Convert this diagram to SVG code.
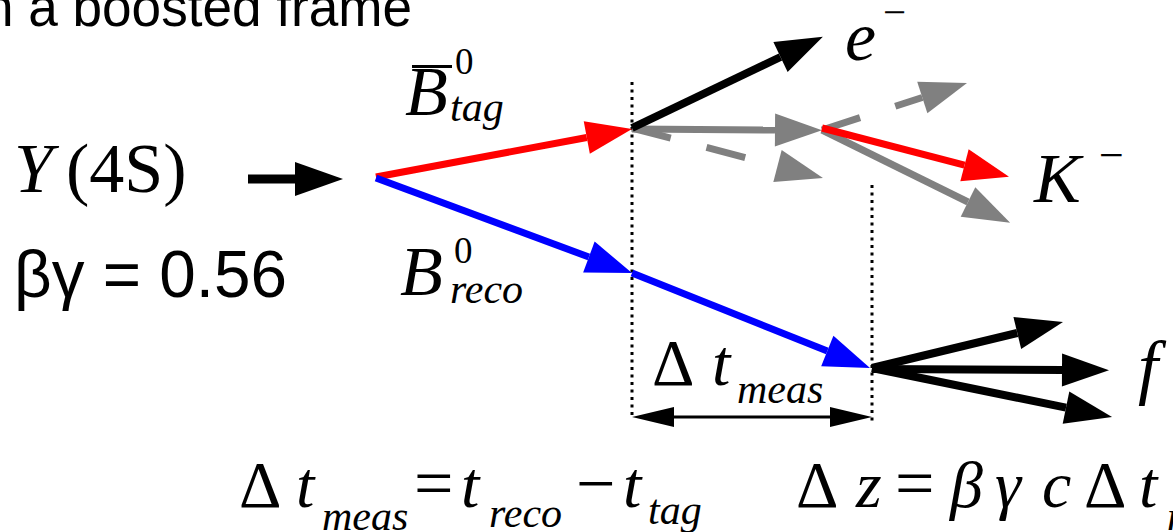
<svg xmlns="http://www.w3.org/2000/svg" width="1173" height="532" viewBox="0 0 1173 532">
<style>
.sans{font-family:"Liberation Sans",Arial,sans-serif;fill:#000}
.m{font-family:"Liberation Serif","Times New Roman",serif;fill:#000}
.i{font-style:italic}
.big{font-size:70px}
.mid{font-size:66px}
.sub{font-size:42px}
.sup{font-size:37px}
.arr{fill:none;stroke-linecap:butt}
.k{stroke:#000}
.r{stroke:#ff0000}
.b{stroke:#0000ff}
.g{stroke:#808080}
.dot{stroke:#000;stroke-width:3;stroke-dasharray:3 4.5;fill:none}
</style>
<defs>
<marker id="hk" markerUnits="userSpaceOnUse" markerWidth="60" markerHeight="40" refX="0" refY="0" orient="auto" overflow="visible"><path d="M0,-16.5 L47,0 L0,16.5 Z" fill="#000"/></marker>
<marker id="hr" markerUnits="userSpaceOnUse" markerWidth="60" markerHeight="40" refX="0" refY="0" orient="auto" overflow="visible"><path d="M0,-16.5 L46,0 L0,16.5 Z" fill="#ff0000"/></marker>
<marker id="hb" markerUnits="userSpaceOnUse" markerWidth="60" markerHeight="40" refX="0" refY="0" orient="auto" overflow="visible"><path d="M0,-16.5 L46,0 L0,16.5 Z" fill="#0000ff"/></marker>
<marker id="hg" markerUnits="userSpaceOnUse" markerWidth="60" markerHeight="40" refX="0" refY="0" orient="auto" overflow="visible"><path d="M0,-16.5 L47,0 L0,16.5 Z" fill="#808080"/></marker>
<marker id="hbig" markerUnits="userSpaceOnUse" markerWidth="60" markerHeight="40" refX="0" refY="0" orient="auto" overflow="visible"><path d="M0,-17 L48,0 L0,17 Z" fill="#000"/></marker>
<marker id="hs" markerUnits="userSpaceOnUse" markerWidth="50" markerHeight="30" refX="0" refY="0" orient="auto-start-reverse" overflow="visible"><path d="M0,-10 L42,0 L0,10 Z" fill="#000"/></marker>
</defs>
<g id="title"><text class="sans" x="-16" y="26" font-size="55" textLength="428" lengthAdjust="spacingAndGlyphs">n a boosted frame</text></g>
<g id="upsilon"><text class="m i big" x="14" y="192">Υ</text><text class="m big" x="66" y="192">(4S)</text></g>
<g id="boost"><text class="sans" x="14" y="297" font-size="66" textLength="273" lengthAdjust="spacingAndGlyphs">βγ = 0.56</text></g>
<g id="btag"><text class="m i big" x="405" y="115">B</text><line x1="412" y1="66.5" x2="452" y2="66.5" stroke="#000" stroke-width="3"/><text class="m sup" x="455" y="74">0</text><text class="m i sub" x="450" y="121">tag</text></g>
<g id="breco"><text class="m i big" x="400" y="295">B</text><text class="m sup" x="454" y="263">0</text><text class="m i sub" x="450" y="303">reco</text></g>
<g id="eminus"><text class="m i big" x="845" y="60">e</text><text class="m" x="883" y="26" font-size="41">−</text></g>
<g id="kminus"><text class="m i big" x="1034" y="202">K</text><text class="m" x="1099" y="170" font-size="44">−</text></g>
<g id="f"><text class="m i" x="1138" y="391" font-size="72">f</text></g>
<g id="dt-label"><text class="m mid" x="652" y="385">Δ</text><text class="m i mid" x="712" y="385">t</text><text class="m i sub" x="737" y="403">meas</text></g>
<g id="formula1"><text class="m mid" x="239" y="507">Δ</text><text class="m i mid" x="296" y="507">t</text><text class="m i sub" x="322" y="530">meas</text><text class="m big" x="414" y="507">=</text><text class="m i mid" x="461" y="507">t</text><text class="m i sub" x="489" y="527">reco</text><text class="m big" x="576" y="507">−</text><text class="m i mid" x="623" y="507">t</text><text class="m i sub" x="648" y="524">tag</text></g>
<g id="formula2"><text class="m mid" x="796" y="507">Δ</text><text class="m i mid" x="856" y="507">z</text><text class="m big" x="895" y="507">=</text><text class="m i mid" x="950" y="507">β</text><text class="m i mid" x="995" y="507">γ</text><text class="m i mid" x="1042" y="507">c</text><text class="m mid" x="1084" y="507">Δ</text><text class="m i mid" x="1139" y="507">t</text><text class="m i sub" x="1167" y="530">meas</text></g>
<g id="connectors">
<line class="dot" x1="632" y1="82" x2="632" y2="417"/>
<line class="dot" x1="872" y1="185" x2="872" y2="423"/>
<line class="arr k" x1="248" y1="179" x2="295" y2="179" stroke-width="9" marker-end="url(#hbig)"/>
<line class="arr g" x1="632" y1="128" x2="777.5" y2="166" stroke-width="7" stroke-dasharray="40 37" marker-end="url(#hg)"/>
<line class="arr g" x1="822" y1="130" x2="922.3" y2="97.5" stroke-width="7" stroke-dasharray="40 37" marker-end="url(#hg)"/>
<line class="arr g" x1="632" y1="129" x2="775" y2="130" stroke-width="7" marker-end="url(#hg)"/>
<line class="arr g" x1="822" y1="130" x2="968" y2="202" stroke-width="7" marker-end="url(#hg)"/>
<line class="arr r" x1="376" y1="177" x2="586.8" y2="137.5" stroke-width="7" marker-end="url(#hr)"/>
<line class="arr b" x1="376" y1="178" x2="588.9" y2="257" stroke-width="7" marker-end="url(#hb)"/>
<line class="arr b" x1="632" y1="273" x2="827.3" y2="351" stroke-width="7" marker-end="url(#hb)"/>
<line class="arr k" x1="632" y1="128" x2="780.5" y2="57" stroke-width="8" marker-end="url(#hk)"/>
<line class="arr r" x1="822" y1="128" x2="964.5" y2="165.2" stroke-width="7" marker-end="url(#hr)"/>
<line class="arr k" x1="872" y1="368" x2="1017.3" y2="333" stroke-width="8" marker-end="url(#hk)"/>
<line class="arr k" x1="872" y1="369" x2="1062" y2="370" stroke-width="8" marker-end="url(#hk)"/>
<line class="arr k" x1="872" y1="368" x2="1066" y2="407.6" stroke-width="8" marker-end="url(#hk)"/>
<line class="arr k" x1="674" y1="417" x2="830" y2="417" stroke-width="3" marker-start="url(#hs)" marker-end="url(#hs)"/>
</g>
</svg>
